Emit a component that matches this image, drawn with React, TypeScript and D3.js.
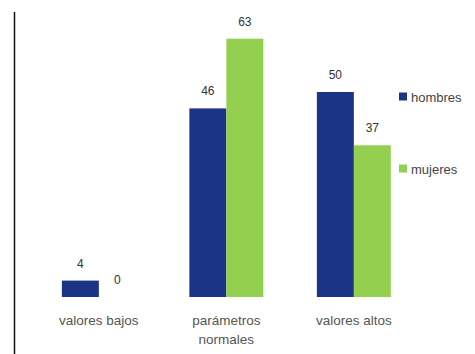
import React from "react";
import * as d3 from "d3";

const categories = ["valores bajos", "parámetros normales", "valores altos"];
const categoryLines = [["valores bajos"], ["parámetros", "normales"], ["valores altos"]];
const seriesNames = ["hombres", "mujeres"];
const hombres = [4, 46, 50];
const mujeres = [0, 63, 37];
const colors = ["#1b3486", "#94d04f"];

export default function App() {
  const W = 475, H = 354;
  const x = d3.scaleBand<string>().domain(categories).range([30, 422.7]).paddingInner(0.42).paddingOuter(0.25);
  const sub = d3.scaleBand<string>().domain(seriesNames).range([0, x.bandwidth()]);
  const y = d3.scaleLinear().domain([0, 70]).range([297, 10]);
  const series = [hombres, mujeres];
  return (
    <svg width={W} height={H} style={{ position: "absolute", left: 0, top: 0, background: "#fff" }} fontFamily="Liberation Sans, Arial, sans-serif">
      <line x1={14.5} x2={14.5} y1={12} y2={H} stroke="#111" strokeWidth={1.5} />
      {categories.map((c, i) => (
        <g key={c} transform={`translate(${x(c)},0)`}>
          {seriesNames.map((s, j) => {
            const v = series[j][i];
            const bx = sub(s)!;
            return (
              <g key={s}>
                <rect x={bx} y={y(v)} width={sub.bandwidth()} height={y(0) - y(v)} fill={colors[j]} />
                <text x={bx + sub.bandwidth() / 2} y={y(v) - 13} textAnchor="middle" fontSize={12} fill="#333">{v}</text>
              </g>
            );
          })}
          {categoryLines[i].map((t, k) => (
            <text key={k} x={x.bandwidth() / 2} y={325 + k * 19} textAnchor="middle" fontSize={13.5} fill="#555">{t}</text>
          ))}
        </g>
      ))}
      {seriesNames.map((s, j) => (
        <g key={s} transform={`translate(399,${97 + j * 72})`}>
          <rect x={0} y={-4.5} width={8} height={8} fill={colors[j]} />
          <text x={12} y={4.5} fontSize={13} fill="#444">{s}</text>
        </g>
      ))}
    </svg>
  );
}
